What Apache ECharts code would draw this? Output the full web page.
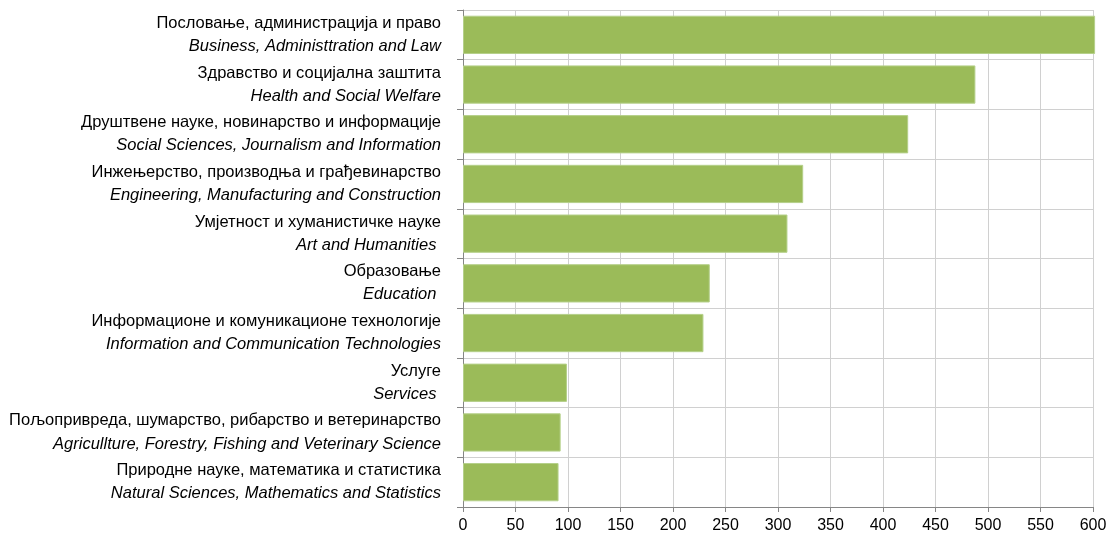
<!DOCTYPE html>
<html>
<head>
<meta charset="utf-8">
<script src="https://cdn.jsdelivr.net/npm/echarts@6/dist/echarts.min.js"></script>
<style>
  html, body { margin: 0; padding: 0; background: #fff; }
  #chart { width: 1111px; height: 541px; }
</style>
</head>
<body>
<div id="chart"></div>
<script>
// категорије (српски / енглески)
var namesSr = [
  'Пословање, администрација и право',
  'Здравство и социјална заштита',
  'Друштвене науке, новинарство и информације',
  'Инжењерство, производња и грађевинарство',
  'Умјетност и хуманистичке науке',
  'Образовање',
  'Информационе и комуникационе технологије',
  'Услуге',
  'Пољопривреда, шумарство, рибарство и ветеринарство',
  'Природне науке, математика и статистика'
];
var namesEn = [
  'Business, Administtration and Law',
  'Health and Social Welfare',
  'Social Sciences, Journalism and Information',
  'Engineering, Manufacturing and Construction',
  'Art and Humanities ',
  'Education ',
  'Information and Communication Technologies',
  'Services ',
  'Agricullture, Forestry, Fishing and Veterinary Science',
  'Natural Sciences, Mathematics and Statistics'
];
var values = [602, 488, 424, 324, 309, 235, 229, 99, 93, 91];
var xTicks = [0, 50, 100, 150, 200, 250, 300, 350, 400, 450, 500, 550, 600];

var categories = namesSr.map(function(s, i){ return s + '\n' + namesEn[i]; });

var chart = echarts.init(document.getElementById('chart'));
var font = '"Liberation Sans Narrow", "Liberation Sans", Arial, sans-serif';
var option = {
  animation: false,
  grid: { left: 463, right: 18, top: 10, bottom: 34 },
  xAxis: {
    type: 'value',
    min: xTicks[0],
    max: xTicks[xTicks.length - 1],
    interval: 50,
    axisLine: { show: true, lineStyle: { color: '#868686' } },
    axisTick: { show: true, length: 5, lineStyle: { color: '#868686' } },
    splitLine: { show: true, lineStyle: { color: '#d0d0d0', width: 1 } },
    axisLabel: { color: '#000', fontSize: 16, fontFamily: font, margin: 11 }
  },
  yAxis: {
    type: 'category',
    inverse: true,
    data: categories,
    axisLine: { show: true, lineStyle: { color: '#868686' } },
    axisTick: { show: true, length: 6, lineStyle: { color: '#868686' } },
    splitLine: { show: true, lineStyle: { color: '#d0d0d0', width: 1 } },
    axisLabel: {
      margin: 22,
      align: 'right',
      formatter: function(v){
        var p = v.split('\n');
        return '{a|' + p[0] + '}\n{b|' + p[1] + '}';
      },
      rich: {
        a: { fontSize: 16.5, fontFamily: font, color: '#000', lineHeight: 23, align: 'right' },
        b: { fontSize: 16.5, fontFamily: font, fontStyle: 'italic', color: '#000', lineHeight: 23, align: 'right' }
      }
    }
  },
  series: [{
    type: 'bar',
    data: values,
    clip: false,
    barCategoryGap: '23%',
    itemStyle: { color: '#9bbb59', borderColor: '#b5d08a', borderWidth: 1 }
  }]
};
chart.setOption(option);
</script>
</body>
</html>
